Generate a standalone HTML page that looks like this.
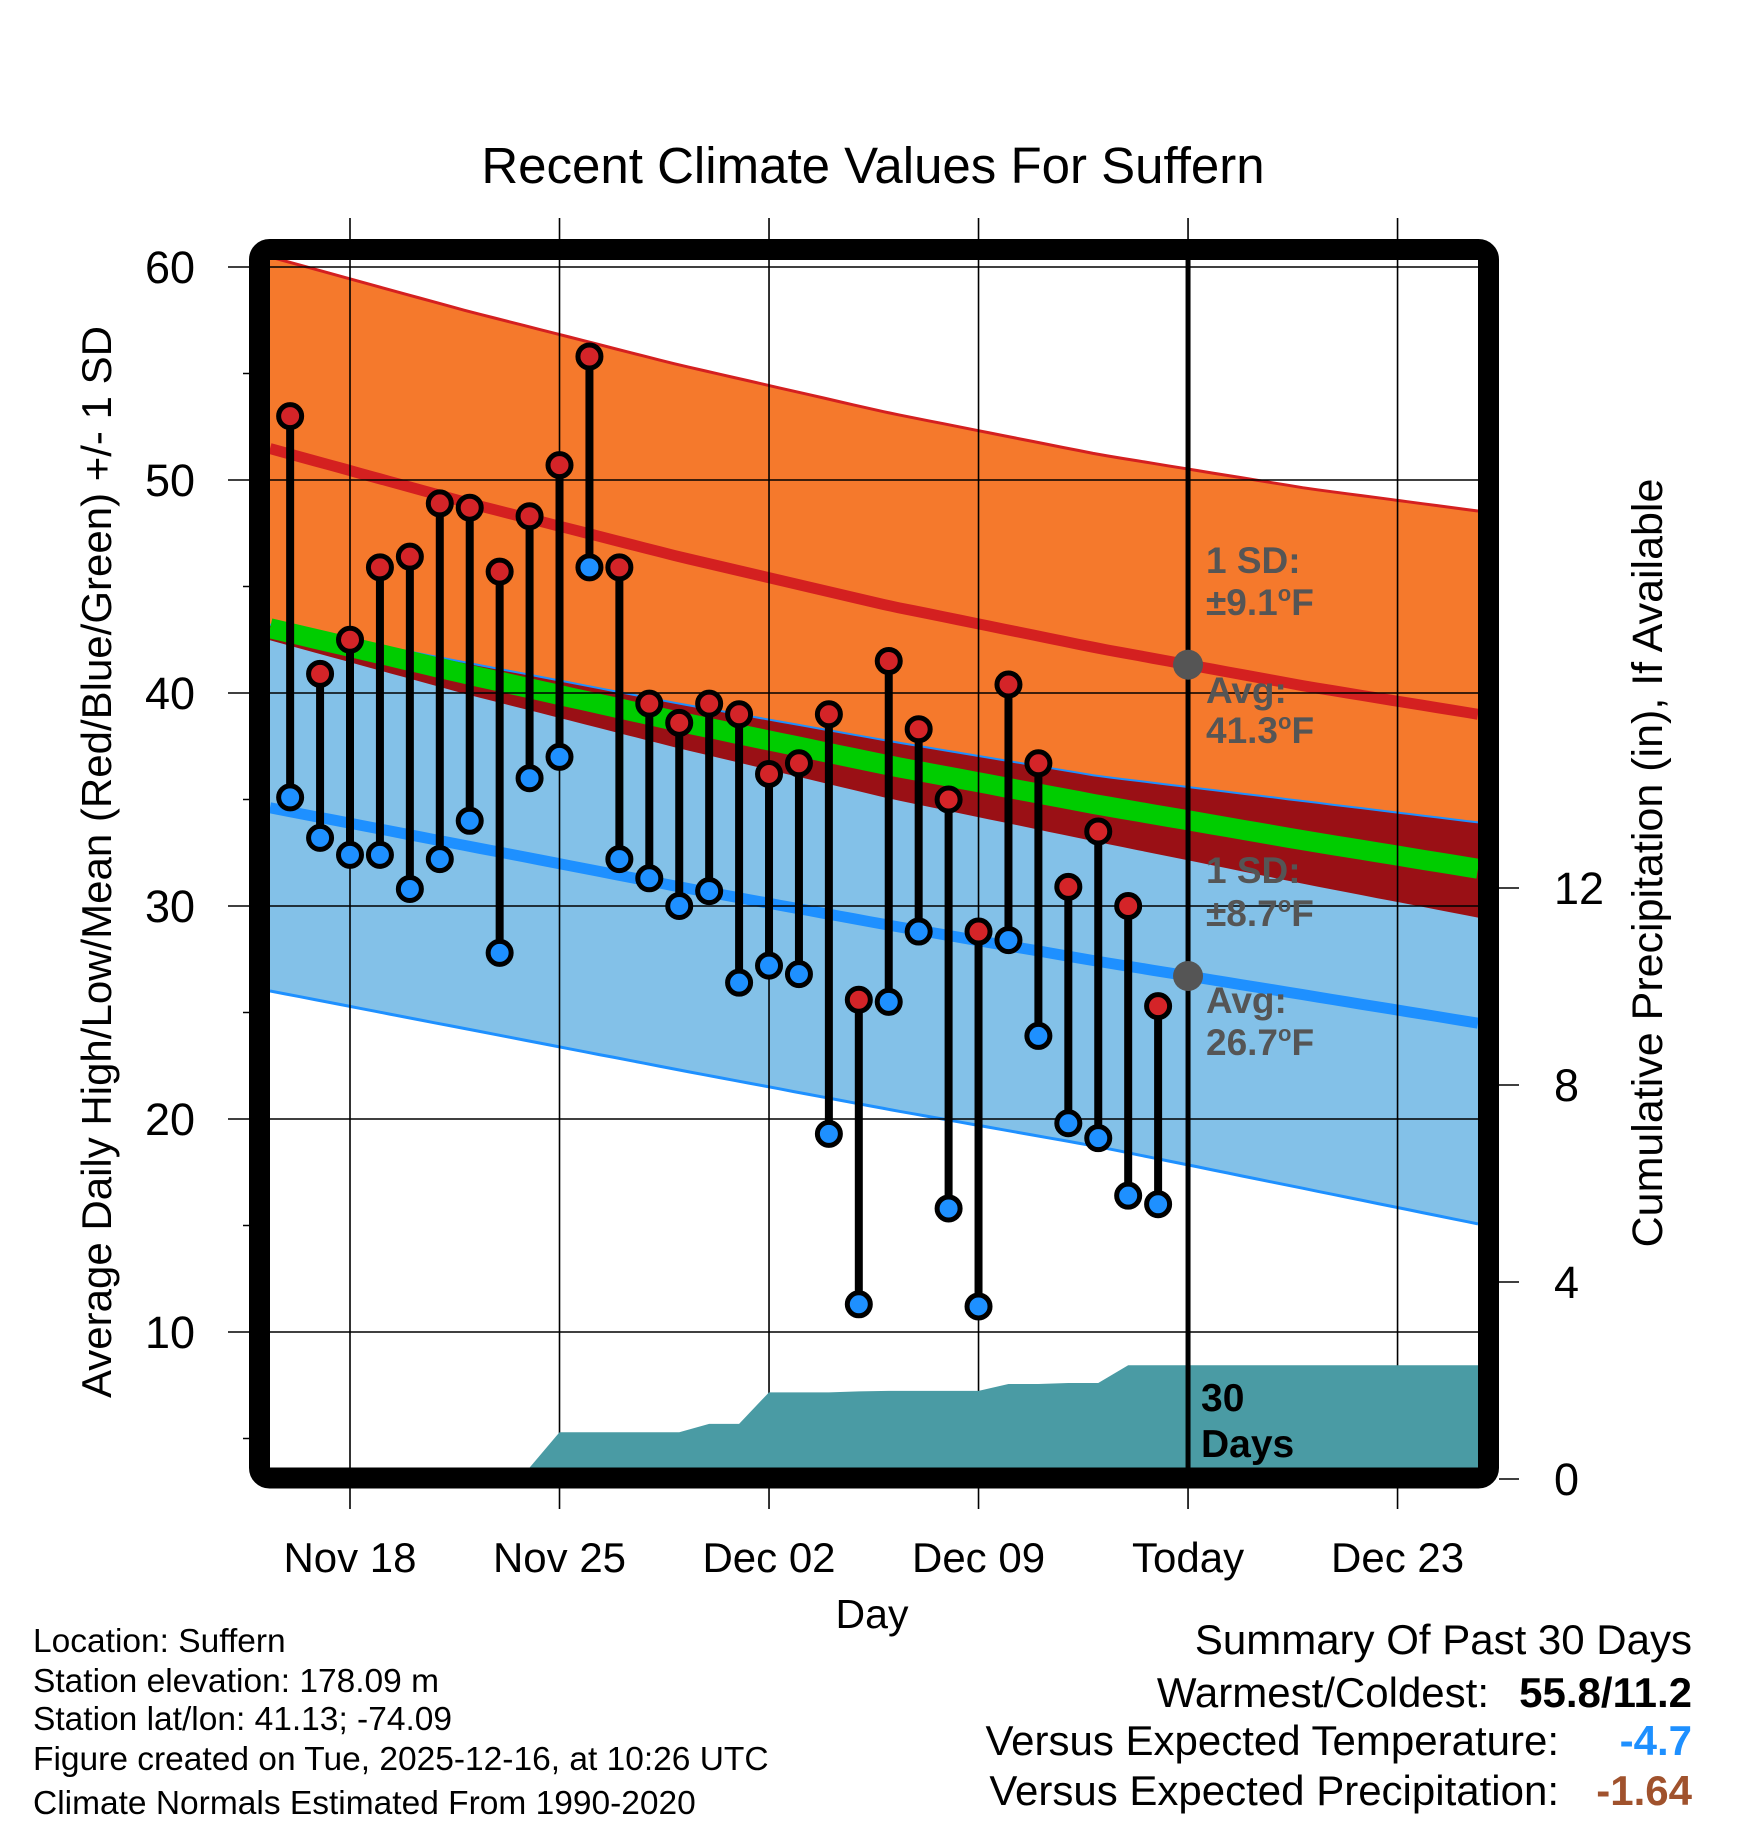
<!DOCTYPE html>
<html><head><meta charset="utf-8"><style>
html,body{margin:0;padding:0;background:#fff;}
svg{display:block;font-family:"Liberation Sans",Arial,sans-serif;}
</style></head><body>
<svg id="chart" width="1748" height="1828" viewBox="0 0 1748 1828" xmlns="http://www.w3.org/2000/svg">
<text x="873" y="183" font-size="51" text-anchor="middle">Recent Climate Values For Suffern</text>
<defs><clipPath id="plotclip"><rect x="270" y="260" width="1208" height="1208"/></clipPath></defs>
<g id="bands" clip-path="url(#plotclip)"></g>
<g id="grid"></g>
<g id="precip" clip-path="url(#plotclip)"></g>
<g id="marks"></g>
<g id="annot"></g>
<rect x="259.5" y="249.5" width="1229" height="1228.5" rx="10" fill="none" stroke="#000" stroke-width="21"/>
<g id="axes"></g>
<text transform="translate(111,862) rotate(-90)" font-size="42" text-anchor="middle">Average Daily High/Low/Mean (Red/Blue/Green) +/- 1 SD</text>
<text transform="translate(1662,863) rotate(-90)" font-size="43" text-anchor="middle">Cumulative Precipitation (in), If Available</text>
<text x="872" y="1628" font-size="41" text-anchor="middle">Day</text>
<g font-size="33.5">
<text x="33" y="1652">Location: Suffern</text>
<text x="33" y="1692">Station elevation: 178.09 m</text>
<text x="33" y="1730">Station lat/lon: 41.13; -74.09</text>
<text x="33" y="1770">Figure created on Tue, 2025-12-16, at 10:26 UTC</text>
<text x="33" y="1814">Climate Normals Estimated From 1990-2020</text>
</g>
<g font-size="42">
<text x="1692" y="1654" text-anchor="end">Summary Of Past 30 Days</text>
<text x="1489" y="1707" text-anchor="end">Warmest/Coldest:</text>
<text x="1692" y="1707" text-anchor="end" font-weight="bold">55.8/11.2</text>
<text x="1559" y="1755" text-anchor="end">Versus Expected Temperature:</text>
<text x="1692" y="1755" text-anchor="end" font-weight="bold" fill="#1e90ff">-4.7</text>
<text x="1559" y="1805" text-anchor="end">Versus Expected Precipitation:</text>
<text x="1692" y="1805" text-anchor="end" font-weight="bold" fill="#a0522d">-1.64</text>
</g>
</svg>
<script>
// ---- data ----
const dayOffsets = [-2,-1,0,1,2,3,4,5,6,7,8,9,10,11,12,13,14,15,16,17,18,19,20,21,22,23,24,25,26,27]; // days relative to Nov 18
const highs = [53.0,40.9,42.5,45.9,46.4,48.9,48.7,45.7,48.3,50.7,55.8,45.9,39.5,38.6,39.5,39.0,36.2,36.7,39.0,25.6,41.5,38.3,35.0,28.8,40.4,36.7,30.9,33.5,30.0,25.3];
const lows  = [35.1,33.2,32.4,32.4,30.8,32.2,34.0,27.8,36.0,37.0,45.9,32.2,31.3,30.0,30.7,26.4,27.2,26.8,19.3,11.3,25.5,28.8,15.8,11.2,28.4,23.9,19.8,19.1,16.4,16.0];
const precipCum = [0.20,0.20,0.20,0.20,0.20,0.20,0.23,0.23,0.23,0.95,0.95,0.95,0.95,0.95,1.12,1.12,1.76,1.76,1.76,1.78,1.79,1.79,1.79,1.79,1.93,1.93,1.95,1.95,2.31,2.31];
const normDays = [-3,4,11,18,25,32,39];
const normHigh = [51.6,48.9,46.4,44.1,42.1,40.3,38.7];
const normLow  = [34.7,32.8,30.9,29.1,27.4,25.8,24.2];
const highSD = [9.0,9.0,9.0,9.05,9.1,9.3,9.6];
const lowSD  = [8.6,8.6,8.6,8.65,8.7,9.1,9.5];
const xTickDays = [0,7,14,21,28,35];
const xTickLabels = ["Nov 18","Nov 25","Dec 02","Dec 09","Today","Dec 23"];
const yTicks = [10,20,30,40,50,60];
const y2Ticks = [0,4,8,12];
const todayDay = 28;

// ---- scales ----
const X0=350, PXD=29.93;
const xOf = d => X0 + PXD*d;
const yOf = v => 267 + (60-v)*21.3;
const pOf = p => 1479 - 49.25*p;
const LEFT=270, RIGHT=1478, TOP=260, BOT=1468;
const dL=(LEFT-X0)/PXD, dR=(RIGHT-X0)/PXD;
function interp(arr,d){
  for(let i=0;i<normDays.length-1;i++){
    if(d<=normDays[i+1]||i===normDays.length-2){
      const t=(d-normDays[i])/(normDays[i+1]-normDays[i]);
      return arr[i]+(arr[i+1]-arr[i])*t;
    }
  }
}
const NS="http://www.w3.org/2000/svg";
function mk(tag,attrs,parent){const e=document.createElementNS(NS,tag);for(const k in attrs)e.setAttribute(k,attrs[k]);parent.appendChild(e);return e;}
const samp=[];for(let d=dL;d<dR+0.5;d+=0.5)samp.push(Math.min(d,dR));
const fHU=d=>interp(normHigh,d)+interp(highSD,d), fHL=d=>interp(normHigh,d)-interp(highSD,d);
const fLU=d=>interp(normLow,d)+interp(lowSD,d), fLL=d=>interp(normLow,d)-interp(lowSD,d);
const line=f=>samp.map(d=>`${xOf(d).toFixed(1)},${yOf(f(d)).toFixed(1)}`);
const bandPath=(fa,fb)=>"M"+line(fa).join(" L")+" L"+line(fb).reverse().join(" L")+"Z";

const bands=document.getElementById('bands');
let e;
e=mk('path',{d:bandPath(fHU,fHL),fill:'#f5792c'},bands);


e=mk('path',{d:bandPath(fLU,fLL),fill:'#83c1e8'},bands);


const fOvTop=d=>Math.max(fLU(d),fHL(d));
e=mk('path',{d:bandPath(fOvTop,fHL),fill:'#9a1015'},bands);


e=mk('polyline',{points:line(fHU).join(" "),fill:'none',stroke:'#d42020',"stroke-width":3},bands);


e=mk('polyline',{points:line(fLU).join(" "),fill:'none',stroke:'#1e90ff',"stroke-width":2},bands);


e=mk('polyline',{points:line(fLL).join(" "),fill:'none',stroke:'#1e90ff',"stroke-width":3},bands);


e=mk('polyline',{points:line(d=>(interp(normHigh,d)+interp(normLow,d))/2).join(" "),fill:'none',stroke:'#00cc00',"stroke-width":20},bands);


e=mk('polyline',{points:line(d=>interp(normHigh,d)).join(" "),fill:'none',stroke:'#d42020',"stroke-width":11},bands);


e=mk('polyline',{points:line(d=>interp(normLow,d)).join(" "),fill:'none',stroke:'#1e90ff',"stroke-width":11},bands);



// grid
const grid=document.getElementById('grid');
yTicks.forEach(v=>{
  e=mk('line',{x1:228,x2:RIGHT,y1:yOf(v),y2:yOf(v),stroke:'#000',"stroke-width":1.6},grid);
  
  
});
xTickDays.forEach(d=>{
  e=mk('line',{x1:xOf(d),x2:xOf(d),y1:218,y2:1509,stroke:'#000',"stroke-width":1.6},grid);
  
  
});
for(let v=5;v<=55;v+=10){
  e=mk('line',{x1:243,x2:252,y1:yOf(v),y2:yOf(v),stroke:'#000',"stroke-width":1.5},grid);
  
  
}

// precip
const pg=document.getElementById('precip');
let pd=`M${LEFT},${BOT} L${LEFT},${pOf(precipCum[0])}`;
dayOffsets.forEach((d,i)=>{pd+=` L${xOf(d)},${pOf(precipCum[i])}`;});
pd+=` L${RIGHT},${pOf(precipCum[precipCum.length-1])} L${RIGHT},${BOT}Z`;
e=mk('path',{d:pd,fill:'#4a9ba4'},pg);



// today line
e=mk('line',{x1:xOf(todayDay),x2:xOf(todayDay),y1:TOP,y2:BOT,stroke:'#000',"stroke-width":5},pg);



// marks
const mg=document.getElementById('marks');
dayOffsets.forEach((d,i)=>{
  e=mk('line',{x1:xOf(d),x2:xOf(d),y1:yOf(highs[i]),y2:yOf(lows[i]),stroke:'#000',"stroke-width":8},mg);
  
  
});
dayOffsets.forEach((d,i)=>{
  e=mk('circle',{cx:xOf(d),cy:yOf(lows[i]),r:11.5,fill:'#1e90ff',stroke:'#000',"stroke-width":5},mg);
  
  
  e=mk('circle',{cx:xOf(d),cy:yOf(highs[i]),r:11.5,fill:'#d42428',stroke:'#000',"stroke-width":5},mg);
  
  
});

// annotations
const ag=document.getElementById('annot');
const todayHigh=interp(normHigh,todayDay), todayLow=interp(normLow,todayDay);
[todayHigh,todayLow].forEach(v=>{
  e=mk('circle',{cx:xOf(todayDay),cy:yOf(v),r:15,fill:'#555'},ag);
  
  
});
const ann=[["1 SD:","",573],["±9.1","F",615],["Avg:","",703],["41.3","F",743],["1 SD:","",883],["±8.7","F",926],["Avg:","",1013],["26.7","F",1055]];
ann.forEach(a=>{
  e=mk('text',{x:1206,y:a[2],"font-size":37,"font-weight":"bold",fill:'#555'},ag);
  
  
  e.appendChild(document.createTextNode(a[0]));
  if(a[1]){
    const s=mk('tspan',{dy:-14,"font-size":22},e); s.textContent="o";
    const f=mk('tspan',{dy:14},e); f.textContent=a[1];
  }
});
[["30",1411],["Days",1457]].forEach(a=>{
  e=mk('text',{x:1201,y:a[1],"font-size":39,"font-weight":"bold",fill:'#000'},ag);
  e.textContent=a[0];
  
  
});

// axes labels
const ax=document.getElementById('axes');
yTicks.forEach(v=>{
  e=mk('text',{x:195,y:yOf(v)+16,"font-size":45,"text-anchor":"end"},ax);
  e.textContent=String(v);
  
  
});
y2Ticks.forEach(p=>{
  e=mk('line',{x1:1499,x2:1519,y1:pOf(p),y2:pOf(p),stroke:'#000',"stroke-width":1.6},ax);
  
  
  e=mk('text',{x:1554,y:pOf(p)+16,"font-size":45},ax);
  e.textContent=String(p);
  
  
});
xTickDays.forEach((d,i)=>{
  e=mk('text',{x:xOf(d),y:1572,"font-size":42,"text-anchor":"middle"},ax);
  e.textContent=xTickLabels[i];
  
  
});
</script>
</body></html>
